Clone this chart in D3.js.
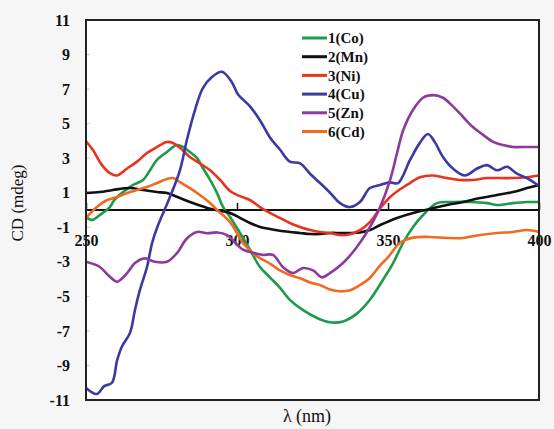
<!DOCTYPE html>
<html><head><meta charset="utf-8">
<script src="https://cdn.jsdelivr.net/npm/d3@7"></script>
<style>
html,body{margin:0;padding:0;background:#f6f6f6;}
svg{display:block;}
text{font-family:"Liberation Serif","Times New Roman",serif;fill:#111;}
</style></head><body>
<svg id="c" width="554" height="429"></svg>
<script>
// ---- data (wavelength nm, CD mdeg) ----
const seriesNames = ["1(Co)","2(Mn)","3(Ni)","4(Cu)","5(Zn)","6(Cd)"];
const seriesColors = ["#1e9a4a","#111111","#e8341f","#3b39a2","#8d3a9c","#f06a22"];
const xTicks = [250,300,350,400];
const yTicks = [11,9,7,5,3,1,-1,-3,-5,-7,-9,-11];

const coData = [[250,-0.4],[252,-0.58],[254.6,-0.29],[257.9,0.17],[259.5,0.6],[262.3,1.04],[265.6,1.45],[268.9,1.74],[271.2,2.3],[273.5,2.9],[276.8,3.36],[280.1,3.76],[282.1,3.65],[284.4,3.36],[286.8,3.0],[288.7,2.43],[291.1,1.74],[293.4,0.98],[295.4,0.17],[297.7,-0.4],[301,-1.33],[304.3,-2.3],[307.6,-3.3],[310.9,-3.9],[314.2,-4.5],[317.5,-5.2],[321.9,-5.8],[326.5,-6.25],[330.8,-6.5],[335.1,-6.45],[339.7,-6.0],[344,-5.2],[348.3,-4.05],[351.7,-3.07],[355,-1.9],[358.3,-0.98],[361.6,-0.29],[366.2,0.4],[371.5,0.46],[377.2,0.46],[382.8,0.4],[386.1,0.29],[391.4,0.4],[396,0.46],[400,0.46]];
const mnData = [[250,0.98],[254.6,1.04],[258.9,1.16],[264.6,1.27],[268.9,1.16],[273.5,1.04],[276.8,0.98],[281.1,0.69],[285.4,0.4],[290.1,0.12],[293,0],[297.7,-0.17],[301,-0.46],[304.3,-0.75],[307.6,-0.98],[310.9,-1.1],[314.2,-1.2],[317.5,-1.27],[320.9,-1.33],[324.2,-1.39],[327.5,-1.39],[330.8,-1.33],[334.1,-1.33],[337.4,-1.33],[340.7,-1.3],[344,-1.16],[347.4,-0.87],[353,-0.46],[358.3,-0.17],[363.9,0.06],[369.5,0.29],[374.8,0.46],[380.5,0.69],[386.1,0.87],[391.4,1.04],[396,1.27],[400,1.45]];
const niData = [[250,3.98],[252.3,3.47],[255.3,2.6],[257.9,2.14],[260.3,2.0],[263.6,2.4],[266.9,2.8],[270.2,3.3],[273.5,3.65],[276.8,3.94],[278.8,3.88],[281.1,3.6],[284.4,3.07],[287.7,2.7],[291.1,2.3],[294.4,1.74],[297.7,1.1],[301,0.8],[304.3,0.58],[307.6,0.17],[310.9,-0.17],[314.2,-0.46],[317.5,-0.75],[320.9,-0.98],[324.2,-1.16],[327.5,-1.27],[330.8,-1.33],[334.1,-1.45],[337.4,-1.4],[340.7,-1.16],[344,-0.7],[347.4,0.1],[350.7,0.75],[354,1.2],[356.3,1.45],[360.6,1.9],[364.9,2.0],[369.5,1.85],[373.8,1.74],[378.1,1.74],[382.8,1.85],[387.1,1.85],[391.4,1.85],[396,1.9],[400,2.0]];
const cuData = [[250,-10.3],[253.6,-10.65],[256,-10.2],[258.6,-10.0],[260.3,-8.7],[261.9,-7.9],[264.6,-7.1],[266.2,-5.8],[267.9,-4.6],[270.2,-3.3],[271.9,-1.9],[273.8,-0.9],[277.2,0.5],[281.1,2.3],[283.4,4.05],[286.1,5.8],[288.7,7.06],[291.7,7.7],[295,8.0],[298.3,7.4],[300.3,6.7],[304.3,6.0],[307.6,5.2],[310.9,4.2],[314.2,3.5],[317.5,2.8],[320.9,2.7],[324.2,2.1],[327.5,1.56],[330.8,1.0],[334.1,0.4],[337.4,0.17],[340.7,0.46],[344,1.27],[347.4,1.45],[350.7,1.6],[353.3,1.55],[357.3,2.9],[360.6,3.9],[363.2,4.4],[365.6,3.9],[368.2,3.07],[371.5,2.4],[375.5,2.0],[379.5,2.4],[382.8,2.6],[386.1,2.3],[389.4,2.5],[392.7,2.1],[396,1.85],[400,1.4]];
const znData = [[250,-3.0],[254.6,-3.3],[257.3,-3.76],[260.3,-4.15],[263.6,-3.65],[266.2,-3.07],[269.5,-2.8],[272.8,-3.0],[276.8,-3.0],[280.1,-2.5],[283.4,-1.65],[286.8,-1.27],[290.1,-1.35],[293.4,-1.3],[296.7,-1.45],[300,-2.0],[302,-2.3],[306,-2.5],[308.6,-2.6],[311.9,-2.6],[315.2,-3.3],[318.5,-3.65],[321.9,-3.36],[325.2,-3.5],[328.1,-3.9],[330.8,-3.65],[335.1,-3.07],[339.7,-2.14],[344,-1.0],[347.4,0.17],[350.7,1.74],[353,3.3],[355,4.6],[358.3,5.8],[361.6,6.5],[364.9,6.65],[368.2,6.5],[371.5,6.0],[374.8,5.4],[378.1,4.8],[381.5,4.35],[384.8,3.94],[388.1,3.76],[391.4,3.65],[396,3.65],[400,3.65]];
const cdData = [[250,-0.46],[253.6,0.17],[257,0.58],[260.3,0.75],[263.6,0.98],[266.9,1.16],[270.2,1.33],[273.5,1.56],[276.8,1.8],[278.8,1.85],[281.1,1.62],[284.4,1.27],[287.7,0.87],[291.1,0.4],[293.4,0],[297.7,-0.7],[302,-1.9],[306,-2.6],[310.9,-3.1],[314.2,-3.5],[317.5,-3.76],[320.9,-3.95],[324.2,-4.2],[327.5,-4.35],[330.8,-4.6],[334.1,-4.7],[337.4,-4.65],[340.7,-4.35],[344,-3.94],[347.4,-3.2],[349.7,-2.8],[354,-1.9],[358.3,-1.6],[363.9,-1.56],[369.5,-1.62],[374.8,-1.62],[380.5,-1.45],[386.1,-1.33],[391.4,-1.27],[396,-1.16],[400,-1.27]];
const allSeries = [coData, mnData, niData, cuData, znData, cdData];

// ---- layout ----
const L = 86, T = 20, R = 539, B = 400;
const svg = d3.select("#c");
const x = d3.scaleLinear().domain([250,400]).range([L,R]);
const y = d3.scaleLinear().domain([-11,11]).range([B,T]);

svg.append("rect").attr("x",L).attr("y",T).attr("width",R-L).attr("height",B-T).attr("fill","#ffffff");

// y axis (left, inside faint ticks)
const yAxis = d3.axisLeft(y).tickValues(yTicks).tickSize(0).tickPadding(16).tickFormat(d=>String(d));
const gy = svg.append("g").attr("transform",`translate(${L},0)`).call(yAxis);
gy.select(".domain").remove();
gy.selectAll("text").attr("font-size",16).attr("font-weight","bold").attr("font-family","Liberation Serif").attr("fill","#222").attr("dy","0.32em");
svg.append("g").selectAll("line").data(yTicks).join("line")
  .attr("x1",L).attr("x2",L+4).attr("y1",d=>y(d)).attr("y2",d=>y(d))
  .attr("stroke","#cfcfcf").attr("stroke-width",1);

// x axis at zero line
const xAxis = d3.axisTop(x).tickValues(xTicks).tickSize(7).tickFormat(d=>String(d));
const gx = svg.append("g").attr("transform",`translate(0,${y(0)})`).call(xAxis);
gx.select(".domain").remove();
gx.selectAll("line").attr("stroke","#111").attr("stroke-width",1.5);
gx.selectAll("text").attr("font-size",16).attr("font-weight","bold").attr("font-family","Liberation Serif").attr("fill","#222")
  .attr("dy",null).attr("y",36);

// zero line
svg.append("line").attr("x1",L).attr("x2",R).attr("y1",y(0)).attr("y2",y(0)).attr("stroke","#111").attr("stroke-width",2);

// curves
const line = d3.line().x(d=>x(d[0])).y(d=>y(d[1])).curve(d3.curveCatmullRom.alpha(0.5));
const order = [0,1,2,5,3,4];
svg.append("g").selectAll("path").data(order).join("path")
  .attr("d",i=>line(allSeries[i])).attr("fill","none")
  .attr("stroke",i=>seriesColors[i]).attr("stroke-width",2.6).attr("stroke-linejoin","round");

// frame
svg.append("rect").attr("x",L).attr("y",T).attr("width",R-L).attr("height",B-T).attr("fill","none").attr("stroke","#222").attr("stroke-width",2);

// legend
const lg = svg.append("g");
seriesNames.forEach((n,i)=>{
  const yy = 38 + i*18.7;
  lg.append("line").attr("x1",302).attr("x2",327).attr("y1",yy).attr("y2",yy).attr("stroke",seriesColors[i]).attr("stroke-width",3);
  lg.append("text").attr("x",328).attr("y",yy).attr("dy","0.35em").attr("font-size",15).attr("font-weight","bold").text(n);
});

// axis titles
svg.append("text").attr("transform","translate(23,203) rotate(-90)").attr("text-anchor","middle")
  .attr("font-size",17).text("CD (mdeg)");
svg.append("text").attr("x",307).attr("y",422).attr("text-anchor","middle").attr("font-size",18).text("λ (nm)");
</script>
</body></html>
